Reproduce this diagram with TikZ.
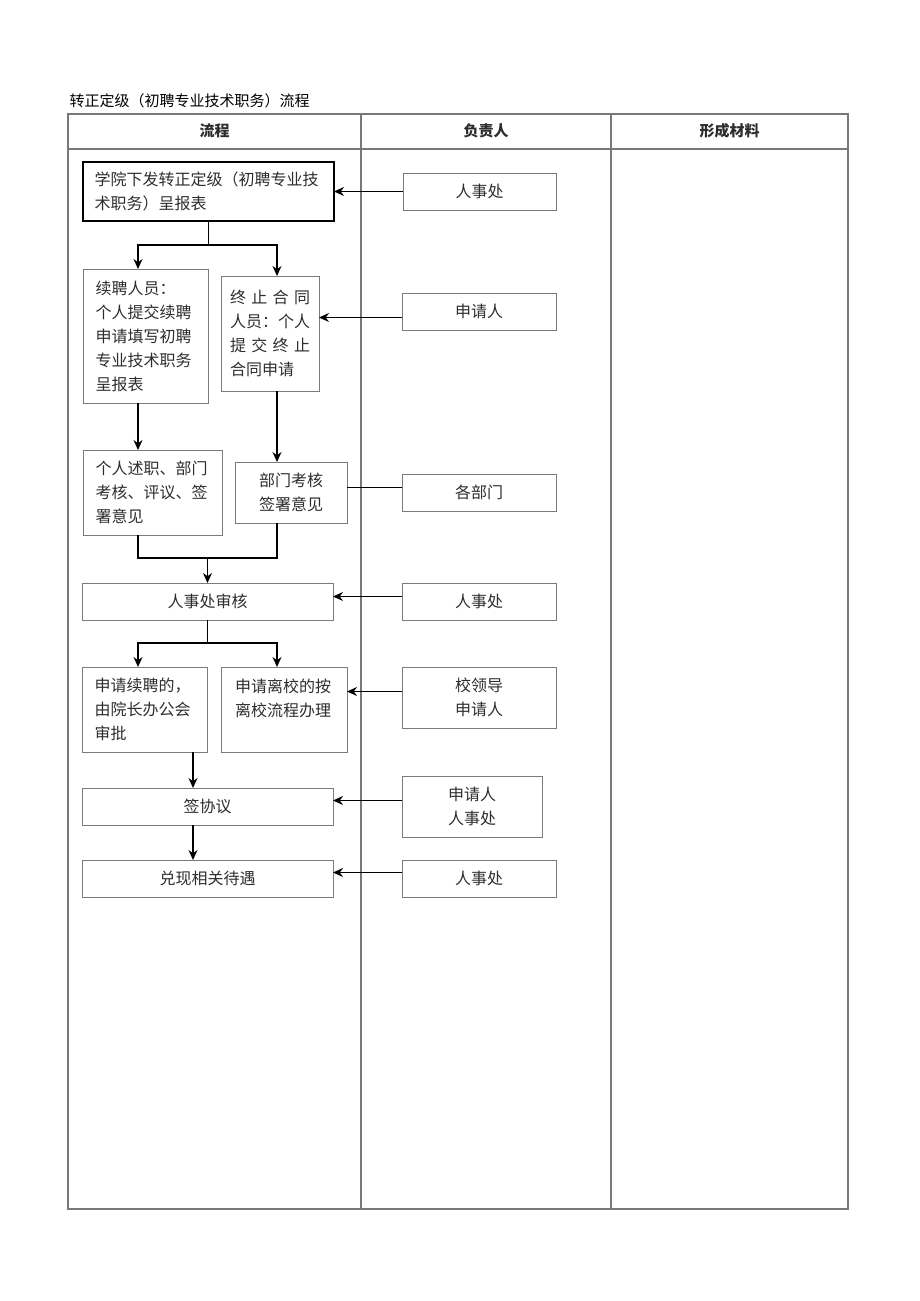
\documentclass[tikz,border=0pt]{standalone}
\usepackage{fontspec}
\setmainfont{Noto Sans CJK SC}
\usetikzlibrary{positioning,arrows.meta}
\definecolor{boxline}{RGB}{118,126,118}
\definecolor{tabline}{RGB}{120,120,120}
\definecolor{textcol}{RGB}{45,45,45}

\begin{document}
\begin{tikzpicture}[
    x = 1pt,
    y = -1pt,
    >={Stealth[length=10pt,width=9pt]},
    box/.style = {draw=boxline, line width=1pt, inner sep=0pt, outer sep=0pt,
              text=textcol, font=\fontsize{16}{24}\selectfont},
    lbox/.style = {box, align=left},
    cbox/.style = {box, align=center},
    link/.style = {black, line width=1.3pt},
    head/.style = {font=\fontsize{15}{18}\selectfont\bfseries, text=textcol},
    ]
\useasboundingbox (0,0) rectangle (920,1301);

% table
\node[anchor=west, font=\fontsize{15}{18}\selectfont] (title) at (66,101)
    {转正定级（初聘专业技术职务）流程};
\draw [tabline, line width=1.2pt] (68,114) rectangle (848,1209);
\draw [tabline, line width=1.2pt] (68,149) -- (848,149);
\draw [tabline, line width=1.2pt] (361,114) -- (361,1209);
\draw [tabline, line width=1.2pt] (611,114) -- (611,1209);
\node[head] (h_flow) at (214.5,131){流程};
\node[head] (h_resp) at (486,131){负责人};
\node[head] (h_docs) at (729.5,131){形成材料};

% flow column
\node[lbox, draw=black, line width=1.6pt, minimum width=251pt, minimum height=59pt,
    text width=228pt] (b1) at (208.5,191.5)
    {学院下发转正定级（初聘专业技\\术职务）呈报表};
\node[lbox, minimum width=125pt, minimum height=134pt, text width=100pt] (b2a) at (145.5,336)
    {续聘人员：\\个人提交续聘\\申请填写初聘\\专业技术职务\\呈报表};
\node[lbox, minimum width=98pt, minimum height=115pt, text width=80pt] (b2b) at (270,333.5)
    {\makebox[80pt][s]{终\hfil 止\hfil 合\hfil 同}\\人员：个人\\
     \makebox[80pt][s]{提\hfil 交\hfil 终\hfil 止}\\合同申请};
\node[lbox, minimum width=139pt, minimum height=85pt, text width=114pt] (b3a) at (152.5,492.5)
    {个人述职、部门\\考核、评议、签\\署意见};
\node[cbox, minimum width=112pt, minimum height=61pt] (b3b) at (291,492.5)
    {部门考核\\签署意见};
\node[cbox, minimum width=251pt, minimum height=37pt] (b4) at (207.5,601.5){人事处审核};
\node[lbox, minimum width=125pt, minimum height=85pt, text width=100pt] (b5a) at (144.5,709.5)
    {申请续聘的，\\由院长办公会\\审批};
\node[lbox, minimum width=126pt, minimum height=85pt, text width=98pt] (b5b) at (284,709.5)
    {申请离校的按\\离校流程办理\\ \mbox{}};
\node[cbox, minimum width=251pt, minimum height=37pt] (b6) at (207.5,806.5){签协议};
\node[cbox, minimum width=251pt, minimum height=37pt] (b7) at (207.5,878.5){兑现相关待遇};

% responsible column
\node[cbox, minimum width=153pt, minimum height=37pt] (r1) at (479.5,191.5){人事处};
\node[cbox, minimum width=154pt, minimum height=37pt] (r2) at (479,311.5){申请人};
\node[cbox, minimum width=154pt, minimum height=37pt] (r3) at (479,492.5){各部门};
\node[cbox, minimum width=154pt, minimum height=37pt] (r4) at (479,601.5){人事处};
\node[cbox, minimum width=154pt, minimum height=61pt] (r5) at (479,697.5){校领导\\申请人};
\node[cbox, minimum width=140pt, minimum height=61pt] (r6) at (472,806.5){申请人\\人事处};
\node[cbox, minimum width=154pt, minimum height=37pt] (r7) at (479,878.5){人事处};

% junctions
\coordinate (s1) at (208.5,245);
\coordinate (s2) at (207.5,558);
\coordinate (s3) at (207.5,643);

\draw [link] (b1.south) -- (s1);
\draw [->, link] (s1) -| ([xshift=-7.5pt]b2a.north);
\draw [->, link] (s1) -| ([xshift=7pt]b2b.north);
\draw [->, link] ([xshift=-7.5pt]b2a.south) -- ([xshift=-7.5pt]b2a.south |- b3a.north);
\draw [->, link] ([xshift=7pt]b2b.south) -- ([xshift=7pt]b2b.south |- b3b.north);
\draw [link] ([xshift=-14.5pt]b3a.south) |- (s2) -| ([xshift=-14pt]b3b.south);
\draw [->, link] (s2) -- (b4.north);
\draw [link] (b4.south) -- (s3);
\draw [->, link] (s3) -| ([xshift=-6.5pt]b5a.north);
\draw [->, link] (s3) -| ([xshift=-7pt]b5b.north);
\draw [->, link] ([xshift=-14.5pt]b6.north |- b5a.south) -- ([xshift=-14.5pt]b6.north);
\draw [->, link] ([xshift=-14.5pt]b6.south) -- ([xshift=-14.5pt]b7.north);

\draw [->, link] (r1.west) -- (b1.east);
\draw [->, link] ([yshift=-6pt]r2.west) -- ([yshift=-6pt]r2.west -| b2b.east);
\draw [link] ([yshift=5pt]r3.west) -- ([yshift=5pt]r3.west -| b3b.east);
\draw [->, link] ([yshift=5pt]r4.west) -- ([yshift=5pt]r4.west -| b4.east);
\draw [->, link] ([yshift=6pt]r5.west) -- ([yshift=6pt]r5.west -| b5b.east);
\draw [->, link] ([yshift=6pt]r6.west) -- ([yshift=6pt]r6.west -| b6.east);
\draw [->, link] ([yshift=6pt]r7.west) -- ([yshift=6pt]r7.west -| b7.east);

\end{tikzpicture}
\end{document}
